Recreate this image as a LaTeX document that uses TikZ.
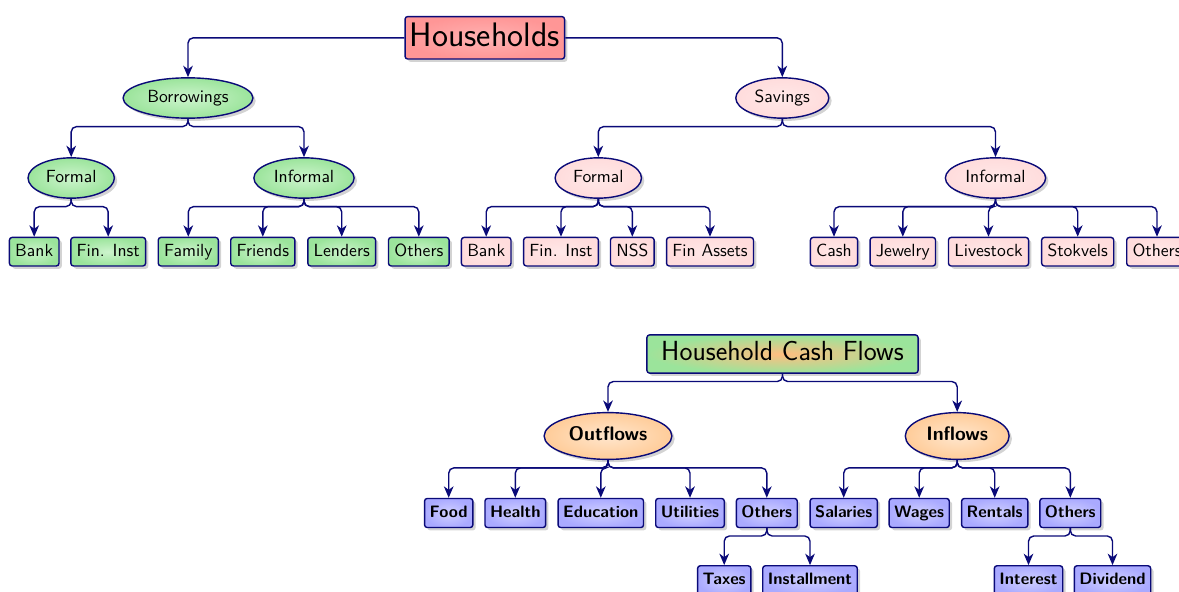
\documentclass[tikz,border=0pt]{standalone}
\usetikzlibrary{arrows.meta,shapes.geometric,shadows}
\definecolor{navy}{RGB}{10,10,120}
\definecolor{grIn}{RGB}{205,244,205}
\definecolor{grOut}{RGB}{155,228,155}
\definecolor{pkIn}{RGB}{255,232,232}
\definecolor{pkOut}{RGB}{255,220,220}
\definecolor{rdIn}{RGB}{255,178,178}
\definecolor{rdOut}{RGB}{255,150,150}
\definecolor{blIn}{RGB}{208,208,255}
\definecolor{blOut}{RGB}{170,170,255}
\definecolor{orIn}{RGB}{255,230,205}
\definecolor{orOut}{RGB}{255,204,153}
\definecolor{hcIn}{RGB}{255,190,128}
\tikzset{
  nd/.style={draw=navy, thick, drop shadow={shadow xshift=1.6pt, shadow yshift=-1.6pt, opacity=0.35}},
  lbox/.style={nd, rectangle, rounded corners=1.5pt, font=\sffamily, inner xsep=3.3pt, inner ysep=3.6pt, text height=7pt, text depth=2pt},
  lell/.style={nd, ellipse, font=\sffamily, inner xsep=3pt, inner ysep=3.6pt, text height=7pt, text depth=2pt},
  hbox/.style={nd, rectangle, rounded corners=1.5pt, font=\sffamily\fontsize{19.3}{23}\selectfont, inner xsep=2.7pt, inner ysep=3.6pt, text height=13.3pt, text depth=3.6pt, inner color=rdIn, outer color=rdOut},
  cfbox/.style={nd, rectangle, rounded corners=1.5pt, font=\sffamily\fontsize{15.7}{19}\selectfont, inner xsep=8.1pt, inner ysep=3.9pt, text height=10.9pt, text depth=3pt, inner color=hcIn, outer color=grOut},
  bell/.style={nd, ellipse, font=\sffamily\bfseries\fontsize{11.1}{13}\selectfont, inner xsep=3.3pt, inner ysep=4.4pt, text height=7.8pt, text depth=2.2pt, inner color=orIn, outer color=orOut},
  bbox/.style={nd, rectangle, rounded corners=1.5pt, font=\sffamily\bfseries\fontsize{9.4}{11}\selectfont, inner xsep=2.9pt, inner ysep=4pt, text height=6.6pt, text depth=1.9pt, inner color=blIn, outer color=blOut},
  gfill/.style={inner color=grIn, outer color=grOut},
  pfill/.style={inner color=pkIn, outer color=pkOut},
  conn/.style={draw=navy, thick, rounded corners=3pt, -{Stealth[length=6.5pt, width=5.5pt, inset=2pt]}}
}
\begin{document}
\begin{tikzpicture}[x=0.5682pt, y=-0.5682pt]
\useasboundingbox (0,0) rectangle (1179,592);
% ---------- top tree ----------
\node[hbox] (H) at (484.8,37.8) {Households};
\node[lell,gfill] (Bor) at (188,98) {Borrowings};
\node[lell,pfill] (Sav) at (782.3,98) {Savings};
\node[lell,gfill] (BF) at (71.2,178) {Formal};
\node[lell,gfill] (BI) at (304,178) {Informal};
\node[lell,pfill] (SF) at (598.3,178) {Formal};
\node[lell,pfill] (SI) at (995.5,178) {Informal};
\node[lbox,gfill] (b1) at (34.2,251.7) {Bank};
\node[lbox,gfill] (b2) at (108.2,251.7) {Fin. Inst};
\node[lbox,gfill] (b3) at (188.3,251.7) {Family};
\node[lbox,gfill] (b4) at (262.8,251.7) {Friends};
\node[lbox,gfill] (b5) at (341.7,251.7) {Lenders};
\node[lbox,gfill] (b6) at (418.8,251.7) {Others};
\node[lbox,pfill] (s1) at (486.2,251.7) {Bank};
\node[lbox,pfill] (s2) at (561,251.7) {Fin. Inst};
\node[lbox,pfill] (s3) at (632.3,251.7) {NSS};
\node[lbox,pfill] (s4) at (710,251.7) {Fin Assets};
\node[lbox,pfill] (s5) at (834,251.7) {Cash};
\node[lbox,pfill] (s6) at (902.8,251.7) {Jewelry};
\node[lbox,pfill] (s7) at (988.5,251.7) {Livestock};
\node[lbox,pfill] (s8) at (1077.7,251.7) {Stokvels};
\node[lbox,pfill] (s9) at (1157,251.7) {Others};
% ---------- bottom tree ----------
\node[cfbox] (C) at (782.5,354) {Household Cash Flows};
\node[bell] (Out) at (608,436) {Outflows};
\node[bell] (In) at (957.2,436) {Inflows};
\node[bbox] (o1) at (448.7,513) {Food};
\node[bbox] (o2) at (515.3,513) {Health};
\node[bbox] (o3) at (600.8,513) {Education};
\node[bbox] (o4) at (690,513) {Utilities};
\node[bbox] (o5) at (766.8,513) {Others};
\node[bbox] (i1) at (843.7,513) {Salaries};
\node[bbox] (i2) at (919.2,513) {Wages};
\node[bbox] (i3) at (994.7,513) {Rentals};
\node[bbox] (i4) at (1070.3,513) {Others};
\node[bbox] (t1) at (724.2,580.3) {Taxes};
\node[bbox] (t2) at (810,580.3) {Installment};
\node[bbox] (t3) at (1028.5,580.3) {Interest};
\node[bbox] (t4) at (1112.5,580.3) {Dividend};
% ---------- connectors ----------
\draw[conn] (H.west) -| (Bor.north);
\draw[conn] (H.east) -| (Sav.north);
\foreach \p/\c in {Bor/BF, Bor/BI, Sav/SF, Sav/SI,
  BF/b1, BF/b2, BI/b3, BI/b4, BI/b5, BI/b6,
  SF/s1, SF/s2, SF/s3, SF/s4, SI/s5, SI/s6, SI/s7, SI/s8, SI/s9,
  C/Out, C/In, Out/o1, Out/o2, Out/o3, Out/o4, Out/o5,
  In/i1, In/i2, In/i3, In/i4, o5/t1, o5/t2, i4/t3, i4/t4}
  \draw[conn] (\p.south) -- ++(0,-4.4pt) -| (\c.north);
\end{tikzpicture}
\end{document}
